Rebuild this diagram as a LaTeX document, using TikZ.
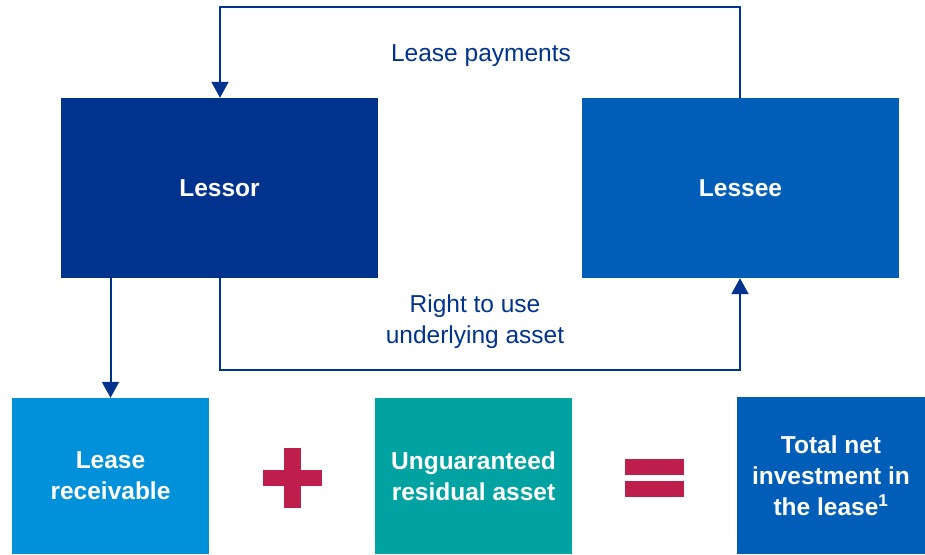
\documentclass[tikz,border=0pt]{standalone}
\usepackage{fontspec}
\setmainfont{Liberation Sans}
\usetikzlibrary{arrows.meta}
\definecolor{navy}{HTML}{00338D}
\definecolor{midblue}{HTML}{005EB8}
\definecolor{lightblue}{HTML}{0091DA}
\definecolor{teal}{HTML}{00A3A1}
\definecolor{crimson}{HTML}{BE1E4B}
\begin{document}
\begin{tikzpicture}[x=1pt,y=-1pt,
  box/.style={fill=#1,draw=none,text=white,font=\fontsize{24.5}{31}\selectfont\bfseries,align=center,inner sep=0pt},
  conn/.style={draw=navy,line width=2pt},
  arr/.style={conn,-{Triangle[width=17pt,length=16pt]}},
  lbl/.style={text=navy,font=\fontsize{24.5}{31}\selectfont,align=center,inner sep=0pt},
  sign/.style={fill=crimson,draw=none}]
\useasboundingbox (0,0) rectangle (925,554);
% boxes
\node[box=navy,minimum width=317pt,minimum height=180pt] (lessor) at (219.5,188) {Lessor};
\node[box=midblue,minimum width=317pt,minimum height=180pt] (lessee) at (740.5,188) {Lessee};
\node[box=lightblue,minimum width=197pt,minimum height=156pt] (recv) at (110.5,476) {Lease\\receivable};
\node[box=teal,minimum width=197pt,minimum height=156pt] (resid) at (473.5,476) {Unguaranteed\\residual asset};
\node[box=midblue,minimum width=188pt,minimum height=157pt] (total) at (831,475.5) {Total net\\investment in\\the lease\textsuperscript{1}};
% signs
\fill[sign] (284,448) rectangle (301,508);
\fill[sign] (263,470) rectangle (322,486);
\fill[sign] (625,459) rectangle (684,475);
\fill[sign] (625,481) rectangle (684,497);
% connectors
\coordinate (t1) at (740,7);
\coordinate (t2) at (220,7);
\coordinate (b1) at (220,370);
\coordinate (b2) at (740,370);
\draw[arr] (lessee.north -| t1) -- (t1) -- (t2) -- (lessor.north -| t2);
\draw[arr] (lessor.south -| b1) -- (b1) -- (b2) -- (lessee.south -| b2);
\draw[arr] (lessor.south -| recv.north) -- (recv.north);
% labels
\node[lbl] (pay) at (481,56) {Lease payments};
\node[lbl] (rtu) at (475,322) {Right to use\\underlying asset};
\end{tikzpicture}
\end{document}
